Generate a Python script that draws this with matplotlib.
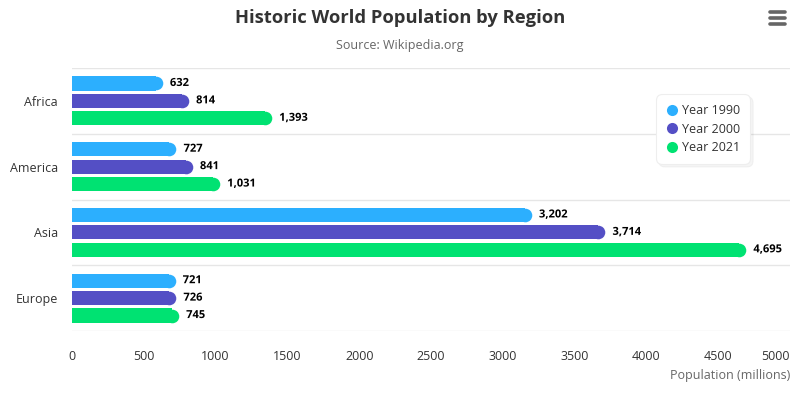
import numpy as np
import matplotlib
matplotlib.use('Agg')
import matplotlib.pyplot as plt
import matplotlib.patheffects as pe
from matplotlib.lines import Line2D

plt.rcParams['font.family'] = ['Open Sans', 'DejaVu Sans']

regions = ['Africa', 'America', 'Asia', 'Europe']
series_names = ['Year 1990', 'Year 2000', 'Year 2021']
pop_1990 = [632, 727, 3202, 721]
pop_2000 = [814, 841, 3714, 726]
pop_2021 = [1393, 1031, 4695, 745]
x_ticks = [0, 500, 1000, 1500, 2000, 2500, 3000, 3500, 4000, 4500, 5000]

COLORS = ['#2caffe', '#544fc5', '#00e272']
TEXT = '#333333'

fig = plt.figure(figsize=(8, 4), dpi=100, facecolor='white')
ax = fig.add_axes([0.09, 0.1725, 0.8975, 0.6575])

bar_h = 0.215
offsets = [-0.265, 0.0, 0.265]
# radius of rounded bar end in data units (about 7 px)
px_per_unit = 718 / 5000
r = 7.0 / px_per_unit
marker_pt = bar_h * 263 / 4 * 72 / 100 * 0.96

ypos = np.arange(len(regions))
for vals, off, color in zip([pop_1990, pop_2000, pop_2021], offsets, COLORS):
    vals = np.array(vals, dtype=float)
    ax.barh(ypos + off, vals - r, height=bar_h, color=color, linewidth=0, zorder=3)
    ax.plot(vals - r, ypos + off, 'o', ms=marker_pt, color=color, mew=0, zorder=3)
    for y, v in zip(ypos + off, vals):
        ax.text(v + 50, y, f'{int(v):,}', va='center', ha='left', fontsize=8,
                fontweight='bold', color='black', zorder=4,
                path_effects=[pe.withStroke(linewidth=2, foreground='white')])

ax.set_xlim(0, 5000)
ax.set_ylim(len(regions) - 0.5, -0.5)
ax.set_xticks(x_ticks)
ax.set_xticklabels([str(t) for t in x_ticks])
ax.set_yticks(ypos)
ax.set_yticklabels(regions)
for b in np.arange(-0.5, len(regions), 1.0):
    ax.axhline(b, color='#e6e6e6', linewidth=1, zorder=1)

for s in ax.spines.values():
    s.set_visible(False)
ax.tick_params(axis='both', length=0, colors=TEXT, labelsize=9)
ax.tick_params(axis='x', pad=14)
ax.tick_params(axis='y', pad=10)
labels = ax.get_xticklabels()
labels[-1].set_ha('right')

fig.text(0.5, 1 - 18 / 400, 'Historic World Population by Region', ha='center', va='center',
         fontsize=13.2, fontweight='bold', color=TEXT)
fig.text(0.5, 1 - 45 / 400, 'Source: Wikipedia.org', ha='center', va='center',
         fontsize=9, color='#666666')
fig.text(790 / 800, 1 - 376 / 400, 'Population (millions)', ha='right', va='center',
         fontsize=9, color='#666666')

# export menu icon
for yy in [12, 18, 24]:
    fig.add_artist(Line2D([770 / 800, 785 / 800], [1 - yy / 400, 1 - yy / 400],
                          color='#666666', linewidth=2.6, solid_capstyle='round'))

handles = [Line2D([0], [0], marker='o', linestyle='', markersize=8, color=c, mew=0)
           for c in COLORS]
leg = fig.legend(handles, series_names, loc='upper left',
                 bbox_to_anchor=(651 / 800, 1 - 89 / 400), frameon=True, fancybox=True,
                 shadow={'color': '#000000', 'alpha': 0.04}, fontsize=9, labelcolor=TEXT,
                 handletextpad=0.3, borderpad=0.7, labelspacing=0.45, handlelength=1.0)
leg.get_frame().set_edgecolor('#eeeeee')
leg.get_frame().set_linewidth(0.8)
leg.get_frame().set_boxstyle('round,pad=0.1,rounding_size=0.5')

fig.savefig('out.png', dpi=100, facecolor='white')
